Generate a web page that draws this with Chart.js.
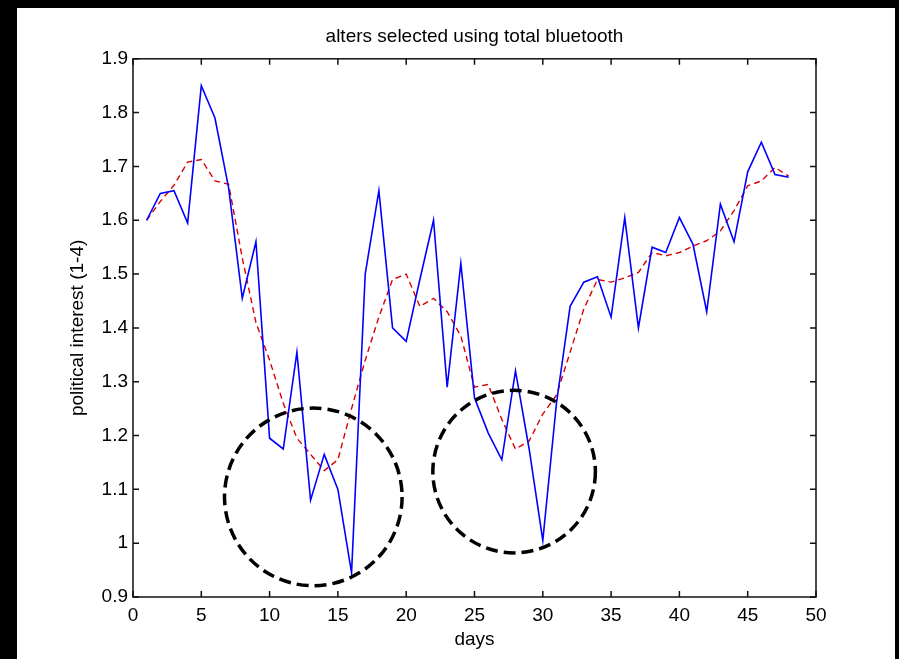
<!DOCTYPE html>
<html>
<head>
<meta charset="utf-8">
<script src="https://cdn.jsdelivr.net/npm/chart.js@4.4.1/dist/chart.umd.min.js"></script>
<style>
  html, body { margin: 0; padding: 0; background: #000; }
  body { width: 899px; height: 659px; position: relative; overflow: hidden; }
  #chart { position: absolute; left: 17px; top: 8px; background: #fff; }
</style>
</head>
<body>
<canvas id="chart" width="878" height="651"></canvas>
<script>
const days = [1, 2, 3, 4, 5, 6, 7, 8, 9, 10, 11, 12, 13, 14, 15, 16, 17, 18, 19, 20, 21, 22, 23, 24,
  25, 26, 27, 28, 29, 30, 31, 32, 33, 34, 35, 36, 37, 38, 39, 40, 41, 42, 43, 44, 45, 46, 47, 48];

// daily mean political interest of selected alters
const observed = [1.60, 1.65, 1.655, 1.595, 1.85, 1.79, 1.66, 1.455, 1.56, 1.195, 1.175, 1.355,
  1.08, 1.165, 1.10, 0.945, 1.50, 1.655, 1.40, 1.375, 1.49, 1.60, 1.29, 1.52,
  1.27, 1.205, 1.155, 1.32, 1.175, 1.005, 1.26, 1.44, 1.485, 1.495, 1.42, 1.605,
  1.40, 1.55, 1.54, 1.605, 1.555, 1.43, 1.63, 1.56, 1.69, 1.745, 1.685, 1.68];

// smoothed version (red dashed)
const smoothed = [1.60, 1.635, 1.665, 1.708, 1.713, 1.673, 1.667, 1.53, 1.41, 1.34, 1.26, 1.195,
  1.165, 1.135, 1.155, 1.25, 1.34, 1.42, 1.49, 1.50, 1.44, 1.455, 1.43, 1.385,
  1.29, 1.295, 1.23, 1.175, 1.19, 1.24, 1.275, 1.355, 1.435, 1.49, 1.485, 1.493,
  1.503, 1.54, 1.534, 1.54, 1.552, 1.562, 1.58, 1.618, 1.664, 1.673, 1.698, 1.682];

const xTicks = [0, 5, 10, 15, 20, 25, 30, 35, 40, 45, 50];
const yTicks = [0.9, 1.0, 1.1, 1.2, 1.3, 1.4, 1.5, 1.6, 1.7, 1.8, 1.9];

// hand-drawn dashed circles round the two dips (centre in data units, radius in days)
const highlights = [
  { x: 13.2, y: 1.086, r: 6.5 },
  { x: 27.9, y: 1.133, r: 5.95 },
];

Chart.defaults.font.family = '"Liberation Sans", Arial, sans-serif';
Chart.defaults.color = '#000';

// MATLAB style box with inward ticks, plus the circles
const matlabFrame = {
  id: 'matlabFrame',
  afterDatasetsDraw(chart) {
    const { ctx, chartArea: a, scales: { x, y } } = chart;
    ctx.save();
    ctx.strokeStyle = '#111';
    ctx.lineWidth = 1.5;
    ctx.strokeRect(a.left, a.top, a.right - a.left, a.bottom - a.top);
    ctx.beginPath();
    xTicks.forEach(v => {
      const px = x.getPixelForValue(v);
      ctx.moveTo(px, a.bottom); ctx.lineTo(px, a.bottom - 6);
      ctx.moveTo(px, a.top); ctx.lineTo(px, a.top + 6);
    });
    yTicks.forEach(v => {
      const py = y.getPixelForValue(v);
      ctx.moveTo(a.left, py); ctx.lineTo(a.left + 6, py);
      ctx.moveTo(a.right, py); ctx.lineTo(a.right - 6, py);
    });
    ctx.stroke();

    ctx.strokeStyle = '#000';
    ctx.lineWidth = 3.5;
    ctx.setLineDash([12, 6]);
    highlights.forEach(h => {
      const cx = x.getPixelForValue(h.x);
      const cy = y.getPixelForValue(h.y);
      const r = x.getPixelForValue(h.x + h.r) - cx;
      ctx.beginPath();
      ctx.arc(cx, cy, r, 0, Math.PI * 2);
      ctx.stroke();
    });
    ctx.restore();
  }
};

new Chart(document.getElementById('chart'), {
  type: 'line',
  data: {
    datasets: [
      {
        label: 'observed',
        data: days.map((d, i) => ({ x: d, y: observed[i] })),
        borderColor: '#0000ff',
        borderWidth: 1.6,
        pointRadius: 0,
        tension: 0,
      },
      {
        label: 'smoothed',
        data: days.map((d, i) => ({ x: d, y: smoothed[i] })),
        borderColor: '#d80000',
        borderWidth: 1.4,
        borderDash: [6, 4],
        pointRadius: 0,
        tension: 0,
      },
    ],
  },
  options: {
    responsive: false,
    animation: false,
    layout: { padding: { top: 0, right: 79, bottom: 0, left: 0 } },
    plugins: {
      legend: { display: false },
      tooltip: { enabled: false },
      title: {
        display: true,
        fullSize: false,
        text: 'alters selected using total bluetooth',
        font: { size: 19, weight: 'normal' },
        padding: { top: 17, bottom: 11 },
      },
    },
    scales: {
      x: {
        type: 'linear',
        min: 0,
        max: 50,
        afterBuildTicks: s => { s.ticks = xTicks.map(v => ({ value: v })); },
        afterFit: s => { s.height = 62; },
        grid: { display: false, drawTicks: false },
        border: { display: false },
        ticks: { font: { size: 19 }, padding: 7, maxRotation: 0 },
        title: { display: true, text: 'days', font: { size: 19 }, padding: { top: 0, bottom: 8 } },
      },
      y: {
        type: 'linear',
        min: 0.9,
        max: 1.9,
        afterBuildTicks: s => { s.ticks = yTicks.map(v => ({ value: v })); },
        afterFit: s => { s.width = 116; },
        grid: { display: false, drawTicks: false },
        border: { display: false },
        ticks: { font: { size: 19 }, padding: 5, callback: v => String(+v.toFixed(1)) },
        title: { display: true, text: 'political interest (1-4)', font: { size: 19 }, padding: { top: 49, bottom: 0 } },
      },
    },
  },
  plugins: [matlabFrame],
});
</script>
</body>
</html>
